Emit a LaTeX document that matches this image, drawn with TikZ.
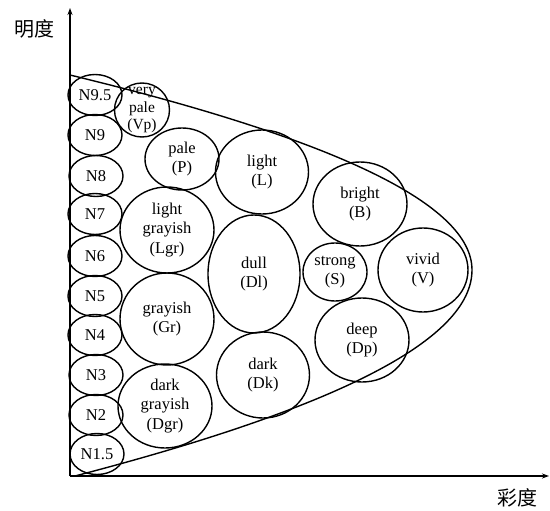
\documentclass[tikz,border=0pt]{standalone}
\usepackage{fontspec}
\setmainfont{Liberation Serif}
\newfontfamily\cjkfont{Noto Sans CJK SC}
\usetikzlibrary{arrows.meta,shapes.geometric}

\begin{document}
\begin{tikzpicture}[
  x=1pt,y=-1pt,
  >={Stealth[length=7pt,width=5pt]},
  every node/.style={font=\fontsize{16.5}{19.5}\selectfont},
  tone/.style={
    ellipse,
    draw,
    line width=1.4pt,
    inner sep=0pt,
    align=center
  },
  grey/.style={tone,minimum width=54pt,minimum height=41pt},
  axislabel/.style={font=\cjkfont\fontsize{20}{20}\selectfont}
]
  \useasboundingbox (0,0) rectangle (550,511);
  % neutral greys
  \node[grey] (n95) at (95,95) {N9.5};
  \node[grey] (n9) at (95,135) {N9};
  \node[grey] (n8) at (96,176) {N8};
  \node[grey] (n7) at (95,214) {N7};
  \node[grey] (n6) at (95,256) {N6};
  \node[grey] (n5) at (95,296) {N5};
  \node[grey] (n4) at (95,335) {N4};
  \node[grey] (n3) at (96,375) {N3};
  \node[grey] (n2) at (96,415) {N2};
  \node[grey] (n15) at (97,454) {N1.5};
  % tones
  \node[tone,minimum width=55pt,minimum height=54pt,
    label={[align=center,font=\fontsize{15.5}{17.5}\selectfont]center:very\\pale\\(Vp)}] (vp) at (142,110) {};
  \node[tone,minimum width=74pt,minimum height=62pt] (p) at (182,159) {pale\\(P)};
  \node[tone,minimum width=93pt,minimum height=84pt] (l) at (262,172) {light\\(L)};
  \node[tone,minimum width=94pt,minimum height=84pt] (b) at (360,204) {bright\\(B)};
  \node[tone,minimum width=94pt,minimum height=86pt] (lgr) at (167,230) {light\\grayish\\(Lgr)};
  \node[tone,minimum width=92pt,minimum height=118pt] (dl) at (254,274) {dull\\(Dl)};
  \node[tone,minimum width=64pt,minimum height=58pt] (s) at (335,272) {strong\\(S)};
  \node[tone,minimum width=90pt,minimum height=84pt] (v) at (423,270) {vivid\\(V)};
  \node[tone,minimum width=94pt,minimum height=92pt] (gr) at (167,319) {grayish\\(Gr)};
  \node[tone,minimum width=94pt,minimum height=84pt] (dp) at (362,340) {deep\\(Dp)};
  \node[tone,minimum width=93pt,minimum height=86pt] (dk) at (263,375) {dark\\(Dk)};
  \node[tone,minimum width=94pt,minimum height=84pt] (dgr) at (165,406) {dark\\grayish\\(Dgr)};
  % colour solid outline
  \coordinate (top) at (70,75);
  \coordinate (apex) at (472,270);
  \coordinate (foot) at (75,476);
  \draw[line width=1.4pt] (top) .. controls (338,140) and (472,205) .. (apex)
    .. controls (472,339) and (340,407) .. (foot);
  % axes
  \coordinate (O) at (70,476);
  \coordinate (ytip) at (70,8);
  \coordinate (xtip) at (549,476);
  \draw[->,line width=1.5pt] (O) -- (ytip);
  \draw[->,line width=1.5pt] (O) -- (xtip);
  \node[axislabel] (ylab) at (34,29) {明度};
  \node[axislabel] (xlab) at (517,498) {彩度};
\end{tikzpicture}
\end{document}
